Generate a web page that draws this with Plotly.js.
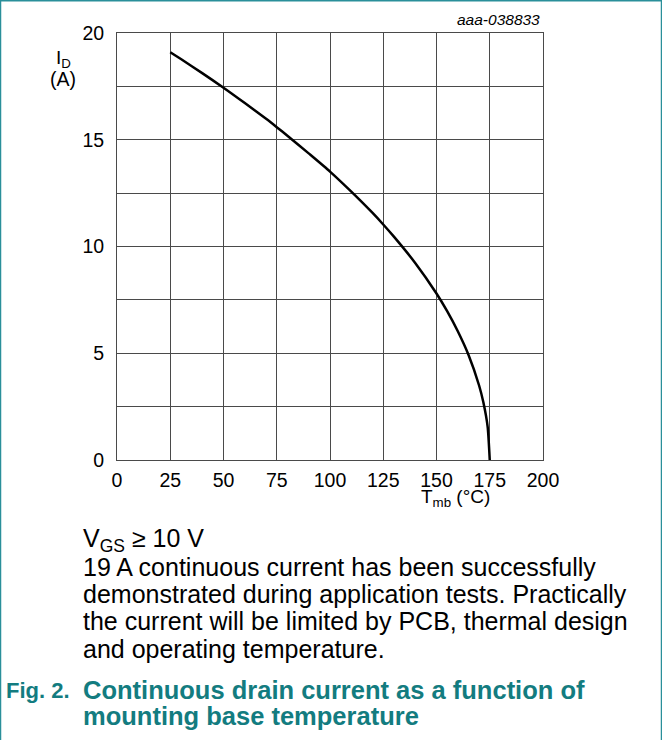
<!DOCTYPE html>
<html>
<head>
<meta charset="utf-8">
<script src="https://cdn.plot.ly/plotly-3.0.1.min.js"></script>
<style>
html,body{margin:0;padding:0;background:#fff;}
#chart{width:662px;height:740px;}
</style>
</head>
<body>
<div id="chart"></div>
<script>
// Data
const tempC = [25, 30, 40, 50, 60, 70, 75, 80, 90, 100, 110, 120, 125, 130, 140, 150, 155, 160, 165, 170, 172, 174, 175];
const drainCurrentA = [19.1, 18.78, 18.12, 17.44, 16.72, 15.98, 15.59, 15.19, 14.36, 13.51, 12.57, 11.57, 11.03, 10.46, 9.23, 7.80, 6.97, 6.03, 4.93, 3.49, 2.70, 1.56, 0];
const xTicks = [0, 25, 50, 75, 100, 125, 150, 175, 200];
const yGrid = [0, 2.5, 5, 7.5, 10, 12.5, 15, 17.5, 20];
const yTickText = ['0', '', '5', '', '10', '', '15', '', '20'];
const noteLines = [
  'V<sub>GS</sub> ≥ 10 V',
  '19 A continuous current has been successfully',
  'demonstrated during application tests. Practically',
  'the current will be limited by PCB, thermal design',
  'and operating temperature.'
];
const captionLabel = 'Fig. 2.';
const captionLines = ['Continuous drain current as a function of', 'mounting base temperature'];

const L = 117, R = 543, T = 33, B = 460, W = 662, H = 740;
const px = v => (v - L) / (R - L);
const py = v => (B - v) / (B - T);

const FONT = '"Liberation Sans", Arial, sans-serif';
const TEAL = '#137c80';

const annotations = [];
annotations.push({xref:'paper', yref:'paper', x: px(542), y: py(20), xanchor:'right', yanchor:'middle',
  text:'<i>aaa-038833</i>', showarrow:false, font:{family:FONT, size:15.5, color:'#000'}});
annotations.push({xref:'paper', yref:'paper', x: px(63), y: py(59), xanchor:'center', yanchor:'middle',
  text:'I<sub>D</sub>', showarrow:false, font:{family:FONT, size:19, color:'#000'}});
annotations.push({xref:'paper', yref:'paper', x: px(63), y: py(79), xanchor:'center', yanchor:'middle',
  text:'(A)', showarrow:false, font:{family:FONT, size:19.5, color:'#000'}});
annotations.push({xref:'paper', yref:'paper', x: px(455), y: py(498), xanchor:'center', yanchor:'middle',
  text:'T<sub>mb</sub> (°C)', showarrow:false, font:{family:FONT, size:19, color:'#000'}});
const noteY = [540, 567, 594, 621, 649];
noteLines.forEach((t, i) => annotations.push({xref:'paper', yref:'paper', x: px(81), y: py(noteY[i]),
  xanchor:'left', yanchor:'middle', text:t, showarrow:false, font:{family:FONT, size:25, color:'#000'}}));
annotations.push({xref:'paper', yref:'paper', x: px(4), y: py(690), xanchor:'left', yanchor:'middle',
  text:'<b>'+captionLabel+'</b>', showarrow:false, font:{family:FONT, size:22, color:TEAL}});
const capY = [690, 716];
captionLines.forEach((t, i) => annotations.push({xref:'paper', yref:'paper', x: px(81), y: py(capY[i]),
  xanchor:'left', yanchor:'middle', text:'<b>'+t+'</b>', showarrow:false, font:{family:FONT, size:25.5, color:TEAL}}));

const BORDER = '#2a8f9a';
const shapes = [
  {type:'line', xref:'paper', yref:'paper', x0:px(0.5), x1:px(0.5), y0:py(0.5), y1:py(740), line:{color:BORDER, width:1.5}},
  {type:'line', xref:'paper', yref:'paper', x0:px(661.5), x1:px(661.5), y0:py(0.5), y1:py(740), line:{color:BORDER, width:1.5}},
  {type:'line', xref:'paper', yref:'paper', x0:px(0), x1:px(662), y0:py(0.8), y1:py(0.8), line:{color:BORDER, width:1.5}}
];

const trace = {x: tempC, y: drainCurrentA, type:'scatter', mode:'lines',
  line:{color:'#000', width:2.5, shape:'spline', smoothing:0.6}, hoverinfo:'skip'};

const layout = {
  width: W, height: H,
  margin: {l: L, r: W - R, t: T, b: H - B, pad: 0},
  paper_bgcolor:'#fff', plot_bgcolor:'#fff',
  showlegend:false,
  font:{family:FONT, size:19.5, color:'#000'},
  xaxis:{range:[0,200], tickvals:xTicks, ticktext:xTicks.map(String), showgrid:true, gridcolor:'#4a4a4a', gridwidth:1,
    zeroline:false, showline:true, linecolor:'#4a4a4a', linewidth:1, mirror:true, ticks:'', ticklabelstandoff:3,
    tickfont:{family:FONT, size:19.5, color:'#000'}, fixedrange:true},
  yaxis:{range:[0,20], tickvals:yGrid, ticktext:yTickText, showgrid:true, gridcolor:'#4a4a4a', gridwidth:1,
    zeroline:false, showline:true, linecolor:'#4a4a4a', linewidth:1, mirror:true, ticks:'', ticklabelstandoff:8,
    tickfont:{family:FONT, size:19.5, color:'#000'}, fixedrange:true},
  annotations: annotations,
  shapes: shapes
};

Plotly.newPlot('chart', [trace], layout, {displayModeBar:false, staticPlot:true});
</script>
</body>
</html>
